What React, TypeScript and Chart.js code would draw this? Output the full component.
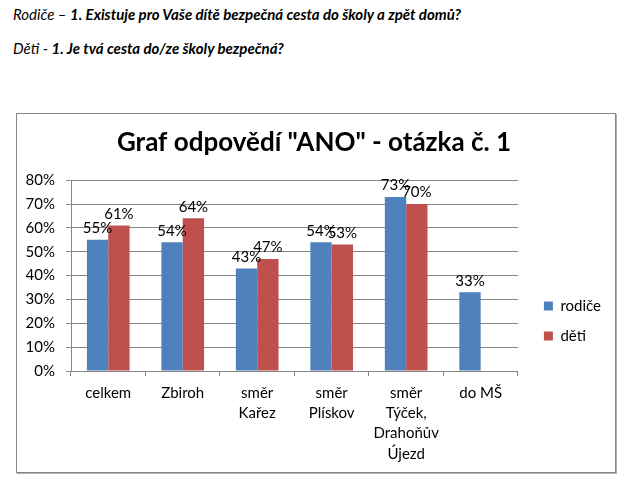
import React, { useEffect, useRef } from "react";
import { Chart, registerables } from "chart.js";

Chart.register(...registerables);

const categories: string[][] = [
  ["celkem"],
  ["Zbiroh"],
  ["směr", "Kařez"],
  ["směr", "Plískov"],
  ["směr", "Týček,", "Drahoňův", "Újezd"],
  ["do MŠ"],
];
const seriesNames = ["rodiče", "děti"];
const rodice: (number | null)[] = [55, 54, 43, 54, 73, 33];
const deti: (number | null)[] = [61, 64, 47, 53, 70, null];
const yMax = 80;
const yStep = 10;
const titleText = 'Graf odpovědí "ANO" - otázka č. 1';

const FONT = "Lato, 'Open Sans', sans-serif";
const GRID = "#868686";

const dataLabelPlugin = {
  id: "dataLabels",
  afterDatasetsDraw(chart: any) {
    const ctx = chart.ctx;
    ctx.save();
    ctx.font = `15px ${FONT}`;
    ctx.fillStyle = "#000";
    ctx.textAlign = "center";
    ctx.textBaseline = "bottom";
    chart.data.datasets.forEach((ds: any, i: number) => {
      const meta = chart.getDatasetMeta(i);
      meta.data.forEach((el: any, j: number) => {
        const v = ds.data[j];
        if (v == null) return;
        ctx.fillText(`${v}%`, el.x, el.y - 4);
      });
    });
    ctx.restore();
  },
};

function ChartBox() {
  const ref = useRef<HTMLCanvasElement>(null);
  useEffect(() => {
    if (!ref.current) return;
    const chart = new Chart(ref.current, {
      type: "bar",
      data: {
        labels: categories as any,
        datasets: [
          { label: seriesNames[0], data: rodice, backgroundColor: "#4F81BD", borderWidth: 0 },
          { label: seriesNames[1], data: deti, backgroundColor: "#C0504D", borderWidth: 0 },
        ],
      },
      options: {
        responsive: false,
        animation: false,
        layout: { padding: { left: 0, right: 4, top: 0, bottom: 0 } },
        datasets: { bar: { categoryPercentage: 0.573, barPercentage: 1 } } as any,
        plugins: {
          title: {
            display: true,
            text: titleText,
            color: "#000",
            font: { family: FONT, size: 26, weight: "bold" },
            padding: { top: 13, bottom: 22 },
          },
          legend: {
            position: "right",
            title: { display: true, text: "", padding: 19, font: { family: FONT, size: 15 } },
            labels: {
              boxWidth: 9,
              boxHeight: 9,
              padding: 15,
              color: "#000",
              font: { family: FONT, size: 15 },
            },
          },
          tooltip: { enabled: false },
        },
        scales: {
          x: {
            grid: { offset: true, drawOnChartArea: false, tickLength: 5, color: GRID },
            border: { color: GRID },
            ticks: {
              color: "#000",
              font: { family: FONT, size: 15, lineHeight: 1.35 },
              padding: 7,
              maxRotation: 0,
              autoSkip: false,
            },
            afterFit: (s: any) => {
              s.height = 101;
            },
          },
          y: {
            min: 0,
            max: yMax,
            grid: { color: GRID, tickLength: 5 },
            border: { display: true, color: GRID },
            ticks: {
              stepSize: yStep,
              color: "#000",
              font: { family: FONT, size: 15 },
              padding: 11,
              callback: (v: any) => `${v}%`,
            },
            afterFit: (s: any) => {
              s.width = 54;
            },
          },
          gap: {
            type: "linear",
            position: "right",
            display: true,
            grid: { display: false, drawTicks: false },
            border: { display: false },
            ticks: { display: false },
            afterFit: (s: any) => {
              s.width = 11;
            },
          },
        },
      } as any,
      plugins: [dataLabelPlugin],
    });
    return () => chart.destroy();
  }, []);
  return (
    <canvas ref={ref} width={598} height={358} style={{ width: 598, height: 358, display: "block" }} />
  );
}

export default function App() {
  const lineStyle: React.CSSProperties = {
    position: "absolute",
    left: 13,
    fontFamily: FONT,
    fontStyle: "italic",
    fontSize: 15,
    lineHeight: "20px",
    whiteSpace: "nowrap",
    color: "#000",
  };
  return (
    <div style={{ width: 613, height: 467 }}>
      <div style={{ ...lineStyle, top: 3.5 }}>
        Rodiče – <b>1. Existuje pro Vaše dítě bezpečná cesta do školy a zpět domů?</b>
      </div>
      <div style={{ ...lineStyle, top: 37.5 }}>
        Děti - <b>1. Je tvá cesta do/ze školy bezpečná?</b>
      </div>
      <div
        style={{
          position: "absolute",
          left: 16,
          top: 113,
          width: 600,
          height: 360,
          boxSizing: "border-box",
          border: "1px solid #868686",
          boxShadow: "1px 1px 0 #b0b0b0",
          background: "#fff",
        }}
      >
        <ChartBox />
      </div>
    </div>
  );
}
